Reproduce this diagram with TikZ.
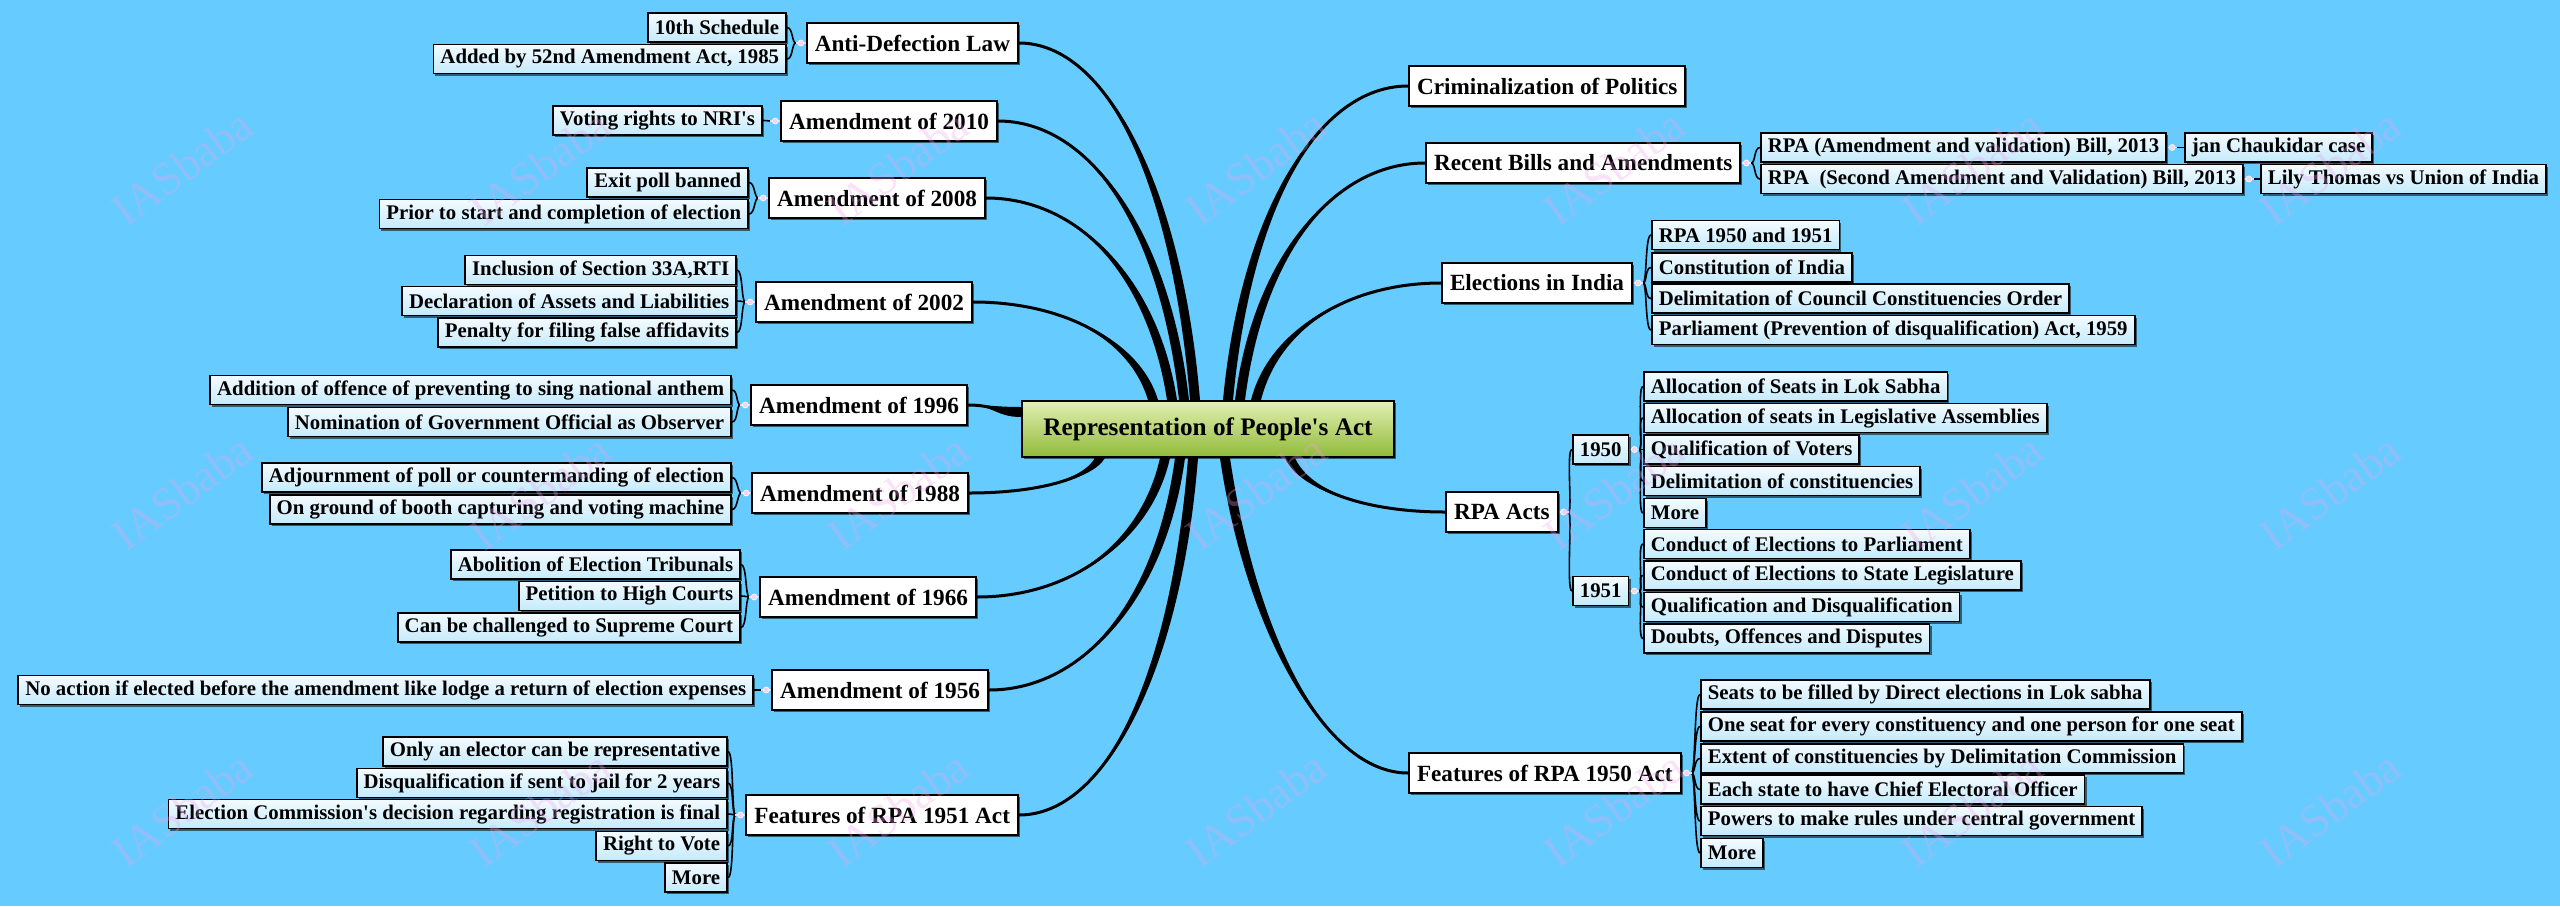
\documentclass[tikz,border=0pt]{standalone}
\usepackage{fontspec}
\setmainfont{Liberation Serif}
\usetikzlibrary{shadows,calc}
\pgfdeclarelayer{back}\pgfdeclarelayer{lines}\pgfsetlayers{back,lines,main}
\definecolor{bgc}{HTML}{66CCFF}
\definecolor{subtop}{HTML}{F4FBFF}
\definecolor{subbot}{HTML}{C4EAFB}
\definecolor{ctop}{HTML}{E2F0B4}
\definecolor{cbot}{HTML}{90BA38}
\definecolor{mkcol}{HTML}{F2D6EC}
\definecolor{wmc}{RGB}{240,160,235}
\newcommand\limb[5]{%
 \fill[black] ([xshift=#2pt-5pt]cen.#1) .. controls +#4 and +#5 .. (#3) .. controls +#5 and +#4 .. ([xshift=#2pt+5pt]cen.#1) -- cycle;
 \draw[limbline] ([xshift=#2pt]cen.#1) .. controls +#4 and +#5 .. (#3);}
\newcommand\lkid[2]{\draw[kid] ($(#1.west)+(-10,0)$) .. controls +(-4,0) and +(6,0) .. (#2.east);}
\newcommand\rkid[2]{\draw[kid] ($(#1.east)+(10,0)$) .. controls +(4,0) and +(-6,0) .. (#2.west);}
\newcommand\lmk[1]{\draw[markline] (#1.west) -- ++(-10,0); \filldraw[markdot] ($(#1.west)+(-5,0)$) circle (3);}
\newcommand\rmk[1]{\draw[markline] (#1.east) -- ++(10,0); \filldraw[markdot] ($(#1.east)+(5,0)$) circle (3);}
\begin{document}
\begin{tikzpicture}[x=1pt,y=-1pt,
  shad/.style={drop shadow={shadow xshift=2pt,shadow yshift=-2pt,fill=black,opacity=0.55}},
  cnode/.style={draw=black,line width=2pt,top color=ctop,bottom color=cbot,font=\bfseries\fontsize{25.2}{30}\selectfont,minimum width=372pt,minimum height=56pt,inner sep=0pt,shad},
  mnode/.style={draw=black,line width=2pt,fill=white,font=\bfseries\fontsize{23.2}{28}\selectfont,minimum height=40pt,inner xsep=8pt,inner ysep=0pt,shad},
  snode/.style={draw=black,line width=1.8pt,top color=subtop,bottom color=subbot,font=\bfseries\fontsize{20.8}{24}\selectfont,minimum height=29pt,inner xsep=7pt,inner ysep=0pt,shad},
  limbline/.style={draw=black,line width=3pt},
  kid/.style={draw=black,line width=1.6pt},
  markline/.style={draw=mkcol,line width=1.5pt},
  markdot/.style={fill=mkcol,draw=white,line width=0.6pt},
  wm/.style={text=wmc,opacity=0.3,font=\fontsize{46}{50}\selectfont,inner sep=0pt}
]
\begin{pgfonlayer}{back}
\fill[bgc] (0,0) rectangle (2560,906);
\end{pgfonlayer}
\useasboundingbox (0,0) rectangle (2560,906);

% central
\node[cnode] (cen) at (1208,429) {Representation of People\textquotesingle s Act};

% left main
\node[mnode,anchor=east] (anti) at (1019,43) {Anti-Defection Law};
\node[mnode,anchor=east] (a2010) at (998,121) {Amendment of 2010};
\node[mnode,anchor=east] (a2008) at (986,198) {Amendment of 2008};
\node[mnode,anchor=east] (a2002) at (973,302) {Amendment of 2002};
\node[mnode,anchor=east] (a1996) at (968,405) {Amendment of 1996};
\node[mnode,anchor=east] (a1988) at (969,493) {Amendment of 1988};
\node[mnode,anchor=east] (a1966) at (977,597) {Amendment of 1966};
\node[mnode,anchor=east] (a1956) at (989,690) {Amendment of 1956};
\node[mnode,anchor=east] (f1951) at (1019,815) {Features of RPA 1951 Act};

% right main
\node[mnode,anchor=west] (crim) at (1408,86) {Criminalization of Politics};
\node[mnode,anchor=west] (recent) at (1425,163) {Recent Bills and Amendments};
\node[mnode,anchor=west] (elect) at (1441,283) {Elections in India};
\node[mnode,anchor=west] (rpa) at (1445,512) {RPA Acts};
\node[mnode,anchor=west] (f1950) at (1408,773) {Features of RPA 1950 Act};

% left subs
\begin{scope}[every node/.style={snode,anchor=east}]
\node (s1) at (787,27.5) {10th Schedule};
\node (s2) at (787,59) {Added by 52nd Amendment Act, 1985};
\node (s3) at (763,120.5) {Voting rights to NRI\textquotesingle s};
\node (s4) at (749,182.5) {Exit poll banned};
\node (s5) at (749,214) {Prior to start and completion of election};
\node (s6) at (737,270) {Inclusion of Section 33A,RTI};
\node (s7) at (737,301) {Declaration of Assets and Liabilities};
\node (s8) at (737,332.5) {Penalty for filing false affidavits};
\node (s9) at (732,390) {Addition of offence of preventing to sing national anthem};
\node (s10) at (732,422) {Nomination of Government Official as Observer};
\node (s11) at (732,477.5) {Adjournment of poll or countermanding of election};
\node (s12) at (732,509.5) {On ground of booth capturing and voting machine};
\node (s13) at (741,564.5) {Abolition of Election Tribunals};
\node (s14) at (741,596) {Petition to High Courts};
\node (s15) at (741,627.5) {Can be challenged to Supreme Court};
\node (s16) at (754,690) {No action if elected before the amendment like lodge a return of election expenses};
\node (s17) at (728,751.5) {Only an elector can be representative};
\node (s18) at (728,783) {Disqualification if sent to jail for 2 years};
\node (s19) at (728,814) {Election Commission\textquotesingle s decision regarding registration is final};
\node (s20) at (728,846) {Right to Vote};
\node (s21) at (728,877.5) {More};
\end{scope}

% right subs
\begin{scope}[every node/.style={snode,anchor=west}]
\node (r1) at (1760,147.5) {RPA (Amendment and validation) Bill, 2013};
\node (r1a) at (2184,147.5) {jan Chaukidar case};
\node (r2) at (1760,179) {RPA\ \ (Second Amendment and Validation) Bill, 2013};
\node (r2a) at (2260,179) {Lily Thomas vs Union of India};
\node (e1) at (1651,235) {RPA 1950 and 1951};
\node (e2) at (1651,267.5) {Constitution of India};
\node (e3) at (1651,298.5) {Delimitation of Council Constituencies Order};
\node (e4) at (1651,330) {Parliament (Prevention of disqualification) Act, 1959};
\node (y50) at (1572,449.5) {1950};
\node (y51) at (1572,591) {1951};
\node (p1) at (1643,386.5) {Allocation of Seats in Lok Sabha};
\node (p2) at (1643,418) {Allocation of seats in Legislative Assemblies};
\node (p3) at (1643,449.5) {Qualification of Voters};
\node (p4) at (1643,481) {Delimitation of constituencies};
\node (p5) at (1643,513) {More};
\node (q1) at (1643,544) {Conduct of Elections to Parliament};
\node (q2) at (1643,575.5) {Conduct of Elections to State Legislature};
\node (q3) at (1643,607) {Qualification and Disqualification};
\node (q4) at (1643,638.5) {Doubts, Offences and Disputes};
\node (g1) at (1700,694.5) {Seats to be filled by Direct elections in Lok sabha};
\node (g2) at (1700,726.5) {One seat for every constituency and one person for one seat};
\node (g3) at (1700,758.5) {Extent of constituencies by Delimitation Commission};
\node (g4) at (1700,789.5) {Each state to have Chief Electoral Officer};
\node (g5) at (1700,821) {Powers to make rules under central government};
\node (g6) at (1700,853) {More};
\end{scope}

\begin{pgfonlayer}{lines}
% limbs from the central node
\limb{north}{-13}{anti.east}{(-18,-215)}{(88,0)}
\limb{north}{-24}{a2010.east}{(-19,-168)}{(93,0)}
\limb{north}{-36}{a2008.east}{(-19,-122)}{(93,0)}
\limb{north}{-55}{a2002.east}{(-18,-60)}{(90,0)}
\limb{north}{20}{crim.west}{(18,-190)}{(-90,0)}
\limb{north}{32}{recent.west}{(18,-143)}{(-92,0)}
\limb{north}{48}{elect.west}{(18,-71)}{(-92,0)}
\limb{south}{-108}{a1988.east}{(-13,22)}{(65,0)}
\limb{south}{-43}{a1966.east}{(-19,84)}{(94,0)}
\limb{south}{-28}{a1956.east}{(-19,140)}{(95,0)}
\limb{south}{-15}{f1951.east}{(-17,215)}{(87,0)}
\limb{south}{17}{f1950.west}{(25,170)}{(-85,0)}
\limb{south}{82}{rpa.west}{(15,33)}{(-78,0)}
\fill[black] ([yshift=12pt]cen.west) .. controls +(-25,0) and +(25,0) .. (a1996.east) .. controls +(25,0) and +(-25,0) .. ([yshift=22pt]cen.west) -- cycle;
\draw[limbline] ([yshift=17pt]cen.west) .. controls +(-25,0) and +(25,0) .. (a1996.east);

% child brackets, left
\lkid{anti}{s1}\lkid{anti}{s2}\lmk{anti}
\lkid{a2010}{s3}\lmk{a2010}
\lkid{a2008}{s4}\lkid{a2008}{s5}\lmk{a2008}
\lkid{a2002}{s6}\lkid{a2002}{s7}\lkid{a2002}{s8}\lmk{a2002}
\lkid{a1996}{s9}\lkid{a1996}{s10}\lmk{a1996}
\lkid{a1988}{s11}\lkid{a1988}{s12}\lmk{a1988}
\lkid{a1966}{s13}\lkid{a1966}{s14}\lkid{a1966}{s15}\lmk{a1966}
\lkid{a1956}{s16}\lmk{a1956}
\lkid{f1951}{s17}\lkid{f1951}{s18}\lkid{f1951}{s19}\lkid{f1951}{s20}\lkid{f1951}{s21}\lmk{f1951}
% child brackets, right
\rkid{recent}{r1}\rkid{recent}{r2}\rmk{recent}
\rkid{r1}{r1a}\rmk{r1}
\rkid{r2}{r2a}\rmk{r2}
\rkid{elect}{e1}\rkid{elect}{e2}\rkid{elect}{e3}\rkid{elect}{e4}\rmk{elect}
\rkid{rpa}{y50}\rkid{rpa}{y51}\rmk{rpa}
\rkid{y50}{p1}\rkid{y50}{p2}\rkid{y50}{p3}\rkid{y50}{p4}\rkid{y50}{p5}\rmk{y50}
\rkid{y51}{q1}\rkid{y51}{q2}\rkid{y51}{q3}\rkid{y51}{q4}\rmk{y51}
\rkid{f1950}{g1}\rkid{f1950}{g2}\rkid{f1950}{g3}\rkid{f1950}{g4}\rkid{f1950}{g5}\rkid{f1950}{g6}\rmk{f1950}
\end{pgfonlayer}

% watermarks
\foreach \wx in {182,540,898,1256,1614,1972,2330}
  \foreach \wy in {167,492,809}
    \node[wm] (w-\wx-\wy) at (\wx,\wy) {\rotatebox{36}{IASbaba}};
\end{tikzpicture}
\end{document}
